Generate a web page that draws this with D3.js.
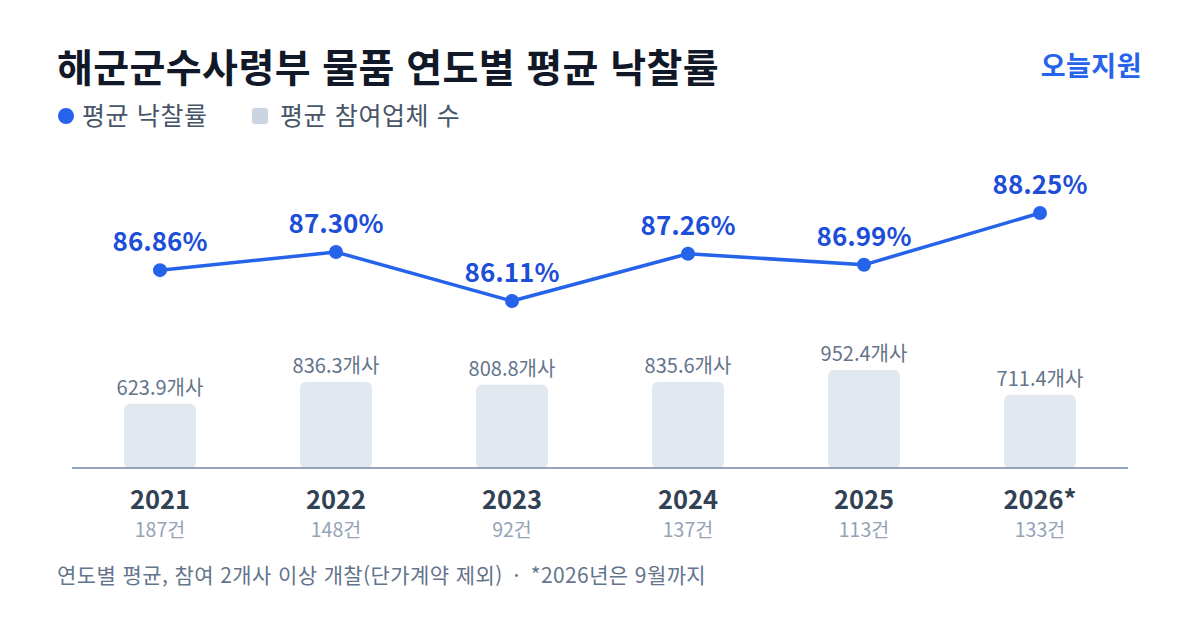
<!DOCTYPE html>
<html lang="ko">
<head>
<meta charset="utf-8">
<script src="https://cdn.jsdelivr.net/npm/d3@7/dist/d3.min.js"></script>
<style>
  html, body { margin: 0; padding: 0; background: #ffffff; }
  svg { display: block; font-family: "Noto Sans CJK KR", "Noto Sans", sans-serif; }
</style>
</head>
<body>
<div id="chart"></div>
<script>
// 해군군수사령부 물품 - 연도별 평균 낙찰률 / 평균 참여업체 수

const years = ['2021', '2022', '2023', '2024', '2025', '2026*'];
const bidRates = [86.86, 87.30, 86.11, 87.26, 86.99, 88.25];       // 평균 낙찰률 (%)
const participants = [623.9, 836.3, 808.8, 835.6, 952.4, 711.4];  // 평균 참여업체 수 (개사)
const caseCounts = [187, 148, 92, 137, 113, 133];                  // 건수

const W = 1200, H = 630;
const BLUE = '#2563eb';

const svg = d3.select('#chart')
    .append('svg')
    .attr('width', W)
    .attr('height', H);

svg.append('rect').attr('width', W).attr('height', H).attr('fill', '#ffffff');

// Title + brand
svg.append('text')
    .attr('x', 57)
    .attr('y', 82)
    .attr('font-size', '39px')
    .attr('font-weight', 700)
    .attr('letter-spacing', '0.4px')
    .attr('fill', '#111827')
    .text('해군군수사령부 물품 연도별 평균 낙찰률');

svg.append('text')
    .attr('x', 1142)
    .attr('y', 76)
    .attr('text-anchor', 'end')
    .attr('font-size', '27px')
    .attr('font-weight', 700)
    .attr('letter-spacing', '0.5px')
    .attr('fill', BLUE)
    .text('오늘지원');

// Legend
const legend = svg.append('g');
legend.append('circle')
    .attr('cx', 66).attr('cy', 116).attr('r', 8)
    .attr('fill', BLUE);
legend.append('text')
    .attr('x', 82).attr('y', 125)
    .attr('font-size', '25px')
    .attr('letter-spacing', '0.6px')
    .attr('fill', '#475569')
    .text('평균 낙찰률');
legend.append('rect')
    .attr('x', 252).attr('y', 108).attr('width', 16).attr('height', 16)
    .attr('rx', 3)
    .attr('fill', '#cbd5e1');
legend.append('text')
    .attr('x', 280).attr('y', 125)
    .attr('font-size', '25px')
    .attr('letter-spacing', '0.6px')
    .attr('fill', '#475569')
    .text('평균 참여업체 수');

// Scales
const x = d3.scaleBand()
    .domain(years)
    .range([72, 1128])
    .padding(0);

const cx = d => x(d) + x.bandwidth() / 2;

const yBar = d3.scaleLinear()
    .domain([0, d3.max(participants)])
    .range([468, 370]);

const yRate = d3.scaleLinear()
    .domain(d3.extent(bidRates))
    .range([301, 213]);

const barW = 72;

// Bars (participants)
const bars = svg.append('g');
participants.forEach((v, i) => {
    bars.append('rect')
        .attr('x', cx(years[i]) - barW / 2)
        .attr('y', yBar(v))
        .attr('width', barW)
        .attr('height', yBar(0) - yBar(v))
        .attr('rx', 6)
        .attr('fill', '#e2e8f0');

    bars.append('text')
        .attr('x', cx(years[i]))
        .attr('y', yBar(v) - 9)
        .attr('text-anchor', 'middle')
        .attr('font-size', '20px')
        .attr('fill', '#64748b')
        .text(`${v.toFixed(1)}개사`);
});

// Baseline axis
svg.append('line')
    .attr('x1', x.range()[0])
    .attr('x2', x.range()[1])
    .attr('y1', yBar(0))
    .attr('y2', yBar(0))
    .attr('stroke', '#94a3b8')
    .attr('stroke-width', 2);

// Year + count labels
years.forEach((yr, i) => {
    svg.append('text')
        .attr('x', cx(yr))
        .attr('y', 509)
        .attr('text-anchor', 'middle')
        .attr('font-size', '25.5px')
        .attr('font-weight', 700)
        .attr('fill', '#334155')
        .text(yr);

    svg.append('text')
        .attr('x', cx(yr))
        .attr('y', 537)
        .attr('text-anchor', 'middle')
        .attr('font-size', '19.5px')
        .attr('fill', '#94a3b8')
        .text(`${caseCounts[i]}건`);
});

// Line (bid rate)
const rateData = years.map((yr, i) => ({ year: yr, rate: bidRates[i] }));

const line = d3.line()
    .x(d => cx(d.year))
    .y(d => yRate(d.rate));

svg.append('path')
    .datum(rateData)
    .attr('fill', 'none')
    .attr('stroke', BLUE)
    .attr('stroke-width', 3.5)
    .attr('stroke-linejoin', 'round')
    .attr('d', line);

svg.selectAll('.rate-dot')
    .data(rateData)
    .enter()
    .append('circle')
    .attr('class', 'rate-dot')
    .attr('cx', d => cx(d.year))
    .attr('cy', d => yRate(d.rate))
    .attr('r', 7)
    .attr('fill', BLUE);

svg.selectAll('.rate-label')
    .data(rateData)
    .enter()
    .append('text')
    .attr('class', 'rate-label')
    .attr('x', d => cx(d.year))
    .attr('y', d => yRate(d.rate) - 19)
    .attr('text-anchor', 'middle')
    .attr('font-size', '26px')
    .attr('font-weight', 700)
    .attr('fill', '#1d4ed8')
    .text(d => `${d.rate.toFixed(2)}%`);

// Footnote
svg.append('text')
    .attr('x', 57)
    .attr('y', 583)
    .attr('font-size', '21px')
    .attr('letter-spacing', '0.4px')
    .attr('fill', '#64748b')
    .text('연도별 평균, 참여 2개사 이상 개찰(단가계약 제외)\u2002·\u2002*2026년은 9월까지');
</script>
</body>
</html>
